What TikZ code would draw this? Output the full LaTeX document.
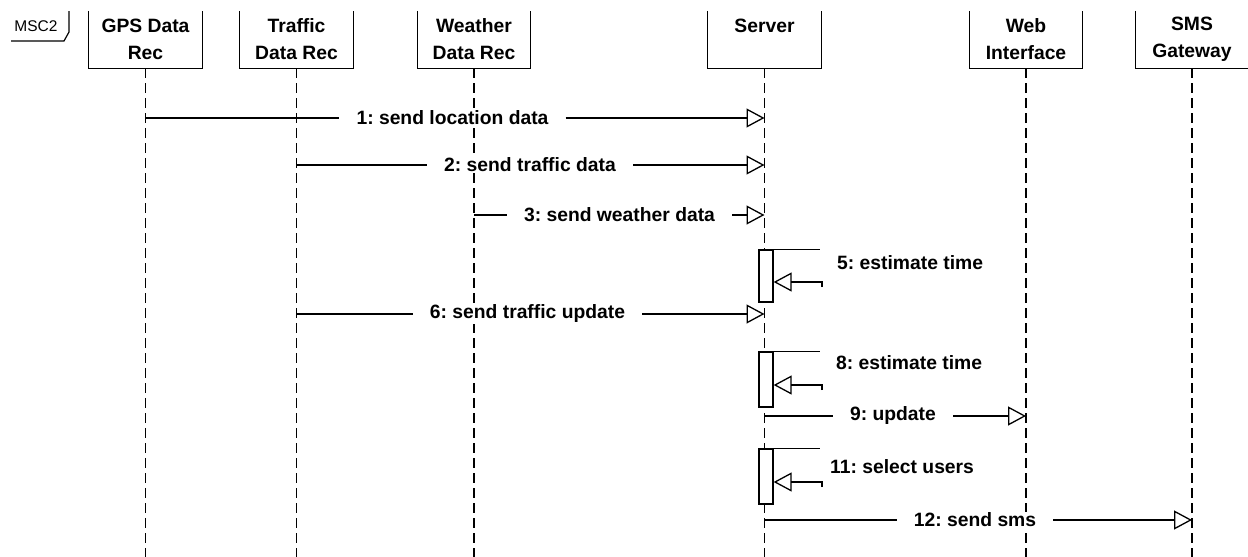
\documentclass[tikz,border=0pt]{standalone}
\usepackage{fontspec}
\setmainfont{Liberation Sans}[Ligatures=CommonOff]
\usetikzlibrary{arrows.meta}
\frenchspacing

\tikzset{
  pix/.style={x=1pt,y=-1pt},
  head/.style={minimum width=113pt,minimum height=57pt,inner sep=0pt,align=center,
    font=\fontsize{19.3}{27}\selectfont\bfseries},
  headbox/.style={line width=1.3pt},
  life/.style={line width=1.3pt,dash pattern=on 10pt off 5pt},
  lbl/.style={fill=white,inner xsep=17pt,inner ysep=1pt,
    font=\fontsize{19.3}{23}\selectfont\bfseries},
  slbl/.style={inner sep=0pt,anchor=west,font=\fontsize{19.3}{23}\selectfont\bfseries},
  msgline/.style={line width=1.3pt},
  msg/.style={line width=1.3pt,-{Triangle[open,length=18pt,width=19pt]}},
  actbox/.style={draw,fill=white,line width=1.3pt,minimum width=14pt,inner sep=0pt},
}

\begin{document}
\begin{tikzpicture}[pix]
\useasboundingbox (0,0) rectangle (1248,557);
\coordinate (bottom) at (0,557);

% frame tag
\draw[line width=1.2pt] (11,41) -- (64,41) -- (69,32) -- (69,11);
\node[font=\fontsize{15.5}{18}\selectfont] (tag) at (36,26) {MSC2};

% lifeline heads
\node[head] (gps)     at (145.5,39.5) {GPS Data\\Rec};
\node[head] (traffic) at (296.5,39.5) {Traffic\\Data Rec};
\node[head] (weather) at (474,39.5)   {Weather\\Data Rec};
\node[head] (server)  at (764.5,39.5) {Server\\\mbox{}};
\node[head] (web)     at (1026,39.5)  {Web\\Interface};
\node[head] (sms)     at (1192,39.5)  {SMS\\Gateway};

\foreach \h in {gps,traffic,weather,server,web,sms}{
  \draw[headbox] (\h.north west) -- (\h.south west) -- (\h.south east) -- (\h.north east);
  \draw[life] (\h.south) -- (\h.south |- bottom);
}

% activation bars on the server lifeline
\node[actbox,minimum height=52pt] (a5)  at (766,276)   {};
\node[actbox,minimum height=55pt] (a8)  at (766,379.5) {};
\node[actbox,minimum height=55pt] (a11) at (766,476.5) {};

% 1: location data
\node[lbl] (m1) at (452.5,118) {1: send location data};
\draw[msgline] (gps.south |- m1) -- (m1.west);
\draw[msg] (m1.east) -- (server.south |- m1);

% 2: traffic data
\node[lbl] (m2) at (530,165) {2: send traffic data};
\draw[msgline] (traffic.south |- m2) -- (m2.west);
\draw[msg] (m2.east) -- (server.south |- m2);

% 3: weather data
\node[lbl] (m3) at (619.5,215) {3: send weather data};
\draw[msgline] (weather.south |- m3) -- (m3.west);
\draw[msg] (m3.east) -- (server.south |- m3);

% 5: self call
\node[slbl] (l5) at (837,263) {5: estimate time};
\coordinate (r5) at (822,282);
\draw[msgline] (a5.north east) -- ++(46,0);
\draw[msg] ([yshift=-5pt]r5) -- (r5) -- (r5 -| a5.east);

% 6: traffic update
\node[lbl] (m6) at (527.5,314) {6: send traffic update};
\draw[msgline] (traffic.south |- m6) -- (m6.west);
\draw[msg] (m6.east) -- (server.south |- m6);

% 8: self call
\node[slbl] (l8) at (836,363) {8: estimate time};
\coordinate (r8) at (822,385);
\draw[msgline] (a8.north east) -- ++(46,0);
\draw[msg] ([yshift=-5pt]r8) -- (r8) -- (r8 -| a8.east);

% 9: update
\node[lbl] (m9) at (893,416) {9: update};
\draw[msgline] (server.south |- m9) -- (m9.west);
\draw[msg] (m9.east) -- (web.south |- m9);

% 11: self call
\node[slbl] (l11) at (830,467) {11: select users};
\coordinate (r11) at (822,482);
\draw[msgline] (a11.north east) -- ++(46,0);
\draw[msg] ([yshift=-5pt]r11) -- (r11) -- (r11 -| a11.east);

% 12: sms
\node[lbl] (m12) at (975,520) {12: send sms};
\draw[msgline] (server.south |- m12) -- (m12.west);
\draw[msg] (m12.east) -- (sms.south |- m12);
\end{tikzpicture}
\end{document}
